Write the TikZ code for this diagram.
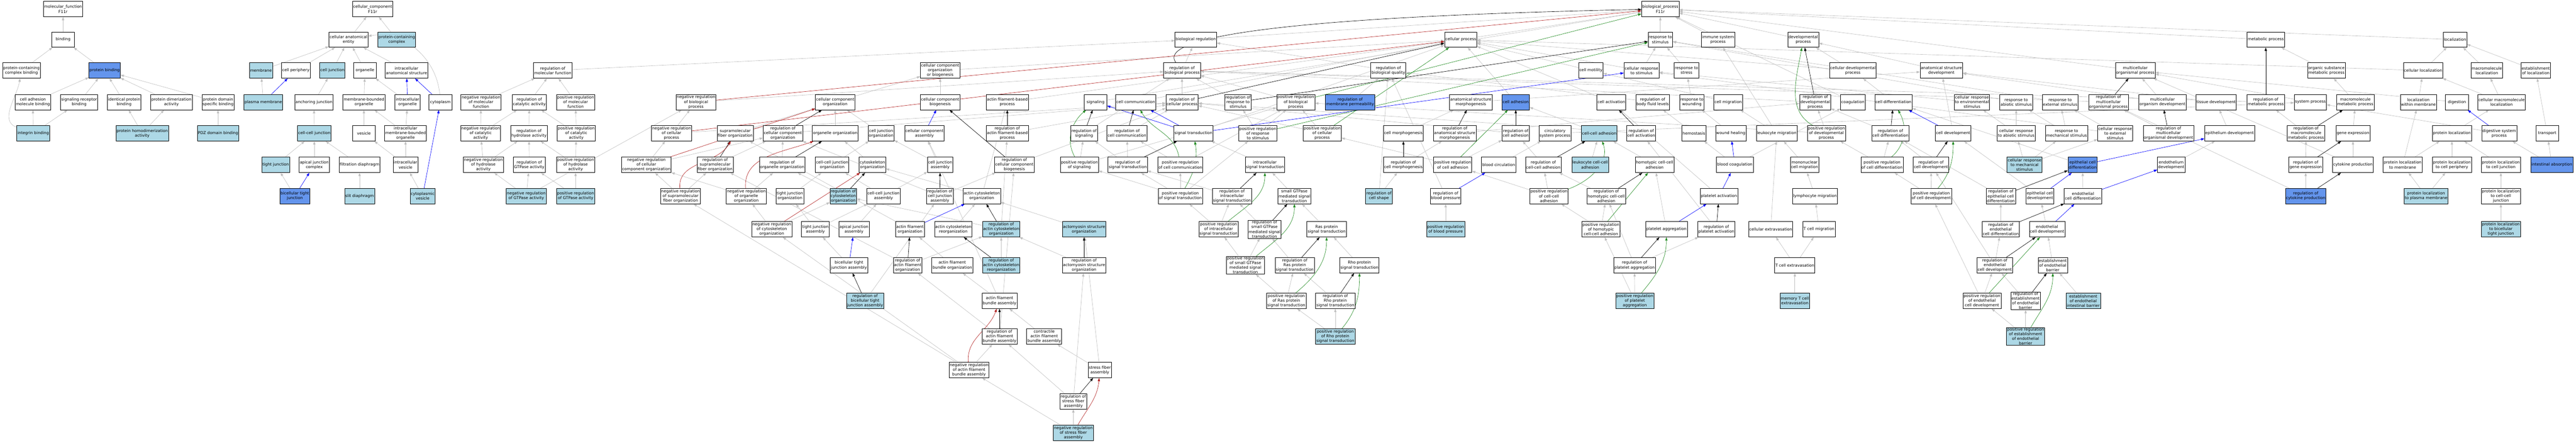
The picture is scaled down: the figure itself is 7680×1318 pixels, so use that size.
\documentclass[tikz,border=0pt]{standalone}
\usepackage{fontspec}
\setmainfont{DejaVu Sans}
\usetikzlibrary{arrows.meta}
\definecolor{hitblue}{RGB}{173,216,230}
\definecolor{keyblue}{RGB}{100,149,237}
\definecolor{isagray}{RGB}{192,192,192}
\definecolor{negred}{RGB}{178,34,34}
\definecolor{posgreen}{RGB}{34,139,34}
\pgfdeclarelayer{edges}
\pgfsetlayers{edges,main}

\begin{document}
\begin{tikzpicture}[x=1pt, y=-1pt,
  term/.style={draw, line width=1pt, fill=white, align=center, minimum width=68pt, minimum height=46pt, inner xsep=2pt, inner ysep=1pt, font=\fontsize{11.8}{14}\selectfont},
  termhit/.style={term, fill=hitblue},
  termkey/.style={term, fill=keyblue},
  isa/.style={draw=isagray, line width=1pt, -{Triangle[length=10pt,width=7pt]}},
  regul/.style={isa, draw=black},
  negreg/.style={isa, draw=negred},
  posreg/.style={isa, draw=posgreen},
  partof/.style={isa, draw=blue},]
\useasboundingbox (0,0) rectangle (7680,1318);

% molecular function
\node[term] (mf) at (188,27) {molecular\_function\\F11r};
\node[term] (bind) at (188,118) {binding};
\node[term] (pcbind) at (64,210) {protein-containing\\complex binding};
\node[termkey] (pbind) at (312,210) {protein binding};
\node[term] (camb) at (98,304) {cell adhesion\\molecule binding};
\node[term] (srb) at (236,304) {signaling receptor\\binding};
\node[term] (ipb) at (370,304) {identical protein\\binding};
\node[term] (pda) at (511,304) {protein dimerization\\activity};
\node[term] (pdsb) at (650,304) {protein domain\\specific binding};
\node[termhit] (intb) at (99,397) {integrin binding};
\node[termhit] (phda) at (424,397) {protein homodimerization\\activity};
\node[termhit] (pdzb) at (650,397) {PDZ domain binding};

% cellular component
\node[term] (cc) at (1111,27) {cellular\_component\\F11r};
\node[term] (cae) at (1039,118) {cellular anatomical\\entity};
\node[termhit] (pcc) at (1183,118) {protein-containing\\complex};
\node[termhit] (memb) at (778,210) {membrane};
\node[term] (cperi) at (882,210) {cell periphery};
\node[termhit] (cjunc) at (991,210) {cell junction};
\node[term] (organ) at (1088,210) {organelle};
\node[term] (ias) at (1212,210) {intracellular\\anatomical structure};
\node[termhit] (pmemb) at (785,304) {plasma membrane};
\node[term] (ajunc) at (936,304) {anchoring junction};
\node[term] (mbo) at (1085,304) {membrane-bounded\\organelle};
\node[term] (io) at (1215,304) {intracellular\\organelle};
\node[term] (cyto) at (1313,304) {cytoplasm};
\node[termhit] (ccj) at (937,397) {cell-cell junction};
\node[term] (ves) at (1085,397) {vesicle};
\node[term] (imbo) at (1209,397) {intracellular\\membrane-bounded\\organelle};
\node[termhit] (tj) at (822,491) {tight junction};
\node[term] (ajc) at (937,491) {apical junction\\complex};
\node[term] (fdia) at (1072,491) {filtration diaphragm};
\node[term] (iv) at (1209,491) {intracellular\\vesicle};
\node[termkey] (btj) at (879,584) {bicellular tight\\junction};
\node[termhit] (sdia) at (1072,584) {slit diaphragm};
\node[termhit] (cv) at (1260,584) {cytoplasmic\\vesicle};

% biological process: molecular function regulation
\node[term] (rmf) at (1648,210) {regulation of\\molecular function};
\node[term] (nrmf) at (1434,304) {negative regulation\\of molecular\\function};
\node[term] (rca) at (1578,304) {regulation of\\catalytic activity};
\node[term] (prmf) at (1716,304) {positive regulation\\of molecular\\function};
\node[term] (nrca) at (1433,397) {negative regulation\\of catalytic\\activity};
\node[term] (rha) at (1577,397) {regulation of\\hydrolase activity};
\node[term] (prca) at (1718,397) {positive regulation\\of catalytic\\activity};
\node[term] (nrha) at (1441,491) {negative regulation\\of hydrolase\\activity};
\node[term] (rgtp) at (1578,491) {regulation of\\GTPase activity};
\node[term] (prha) at (1716,491) {positive regulation\\of hydrolase\\activity};
\node[termhit] (nrgtp) at (1569,584) {negative regulation\\of GTPase activity};
\node[termhit] (prgtp) at (1716,584) {positive regulation\\of GTPase activity};

% component organization
\node[term] (nrbp) at (2075,304) {negative regulation\\of biological\\process};
\node[term] (cco) at (2490,304) {cellular component\\organization};
\node[term] (nrcp) at (2002,397) {negative regulation\\of cellular\\process};
\node[term] (smfo) at (2192,397) {supramolecular\\fiber organization};
\node[term] (rcco) at (2334,397) {regulation of\\cellular component\\organization};
\node[term] (oo) at (2490,397) {organelle organization};
\node[term] (nrcco) at (1927,491) {negative regulation\\of cellular\\component organization};
\node[term] (rsmfo) at (2132,491) {regulation of\\supramolecular\\fiber organization};
\node[term] (roo) at (2332,491) {regulation of\\organelle organization};
\node[term] (ccjo) at (2481,491) {cell-cell junction\\organization};
\node[term] (cso) at (2601,491) {cytoskeleton\\organization};
\node[term] (nrsmfo) at (2029,584) {negative regulation\\of supramolecular\\fiber organization};
\node[term] (nroo) at (2225,584) {negative regulation\\of organelle\\organization};
\node[term] (tjo) at (2355,584) {tight junction\\organization};
\node[termhit] (rcso) at (2514,584) {regulation of\\cytoskeleton\\organization};
\node[term] (ccja) at (2634,584) {cell-cell junction\\assembly};
\node[term] (nrcso) at (2301,683) {negative regulation\\of cytoskeleton\\organization};
\node[term] (tja) at (2431,683) {tight junction\\assembly};
\node[term] (aja) at (2546,683) {apical junction\\assembly};
\node[term] (btja) at (2531,790) {bicellular tight\\junction assembly};
\node[termhit] (rbtja) at (2579,896) {regulation of\\bicellular tight\\junction assembly};

% actin and signalling
\node[term] (breg) at (3565,118) {biological regulation};
\node[term] (ccob) at (2803,210) {cellular component\\organization\\or biogenesis};
\node[term] (rbp) at (3524,210) {regulation of\\biological process};
\node[term] (ccb) at (2803,304) {cellular component\\biogenesis};
\node[term] (afbp) at (3003,304) {actin filament-based\\process};
\node[term] (sig) at (3266,304) {signaling};
\node[term] (ccom) at (3386,304) {cell communication};
\node[term] (rcp) at (3524,304) {regulation of\\cellular process};
\node[term] (rrs) at (3691,304) {regulation of\\response to\\stimulus};
\node[term] (prbp) at (3863,304) {positive regulation\\of biological\\process};
\node[term] (cjo) at (2627,397) {cell junction\\organization};
\node[term] (cca) at (2756,397) {cellular component\\assembly};
\node[term] (rafbp) at (3003,397) {regulation of\\actin filament-based\\process};
\node[term] (rsig) at (3232,397) {regulation of\\signaling};
\node[term] (rccom) at (3360,397) {regulation of\\cell communication};
\node[term] (st) at (3558,397) {signal transduction};
\node[term] (prrs) at (3750,397) {positive regulation\\of response\\to stimulus};
\node[term] (cja) at (2803,491) {cell junction\\assembly};
\node[term] (rccb) at (3024,491) {regulation of\\cellular component\\biogenesis};
\node[term] (psig) at (3218,491) {positive regulation\\of signaling};
\node[term] (rst) at (3362,491) {regulation of\\signal transduction};
\node[term] (prccom) at (3519,491) {positive regulation\\of cell communication};
\node[term] (ist) at (3771,491) {intracellular\\signal transduction};
\node[term] (rcja) at (2802,584) {regulation of\\cell junction\\assembly};
\node[term] (aco) at (2927,584) {actin cytoskeleton\\organization};
\node[term] (prst) at (3519,584) {positive regulation\\of signal transduction};
\node[term] (rist) at (3673,584) {regulation of\\intracellular\\signal transduction};
\node[term] (sgst) at (3859,584) {small GTPase\\mediated signal\\transduction};
\node[term] (afo) at (2713,683) {actin filament\\organization};
\node[term] (acr) at (2842,683) {actin cytoskeleton\\reorganization};
\node[termhit] (raco) at (2985,683) {regulation of\\actin cytoskeleton\\organization};
\node[termhit] (amso) at (3232,683) {actomyosin structure\\organization};
\node[term] (prist) at (3633,683) {positive regulation\\of intracellular\\signal transduction};
\node[term] (rsgst) at (3770,683) {regulation of\\small GTPase\\mediated signal\\transduction};
\node[term] (rasst) at (3955,683) {Ras protein\\signal transduction};
\node[term] (rafo) at (2706,790) {regulation of\\actin filament\\organization};
\node[term] (afbo) at (2839,790) {actin filament\\bundle organization};
\node[termhit] (racr) at (2985,790) {regulation of\\actin cytoskeleton\\reorganization};
\node[term] (ramso) at (3232,790) {regulation of\\actomyosin structure\\organization};
\node[term] (prsgst) at (3713,790) {positive regulation\\of small GTPase\\mediated signal\\transduction};
\node[term] (rrasst) at (3860,790) {regulation of\\Ras protein\\signal transduction};
\node[term] (rhost) at (4053,790) {Rho protein\\signal transduction};
\node[term] (afba) at (2980,896) {actin filament\\bundle assembly};
\node[term] (prrasst) at (3835,896) {positive regulation\\of Ras protein\\signal transduction};
\node[term] (rrhost) at (3981,896) {regulation of\\Rho protein\\signal transduction};
\node[term] (rafba) at (2980,1002) {regulation of\\actin filament\\bundle assembly};
\node[term] (cafba) at (3113,1002) {contractile\\actin filament\\bundle assembly};
\node[termhit] (prrhost) at (3981,1002) {positive regulation\\of Rho protein\\signal transduction};
\node[term] (nrafba) at (2889,1102) {negative regulation\\of actin filament\\bundle assembly};
\node[term] (sfa) at (3279,1102) {stress fiber\\assembly};
\node[term] (rsfa) at (3200,1195) {regulation of\\stress fiber\\assembly};
\node[termhit] (nrsfa) at (3200,1289) {negative regulation\\of stress fiber\\assembly};

% adhesion, response, platelets
\node[term] (bp) at (4950,27) {biological\_process\\F11r};
\node[term] (cp) at (4355,118) {cellular process};
\node[term] (rstim) at (4950,118) {response to\\stimulus};
\node[term] (isp) at (5122,118) {immune system\\process};
\node[term] (rbq) at (4139,210) {regulation of\\biological quality};
\node[term] (cmot) at (4743,210) {cell motility};
\node[term] (crs) at (4894,210) {cellular response\\to stimulus};
\node[term] (rstr) at (5028,210) {response to\\stress};
\node[termkey] (rmp) at (4025,304) {regulation of\\membrane permeability};
\node[term] (asm) at (4385,304) {anatomical structure\\morphogenesis};
\node[termkey] (cadh) at (4519,304) {cell adhesion};
\node[term] (cact) at (4804,304) {cell activation};
\node[term] (rbfl) at (4927,304) {regulation of\\body fluid levels};
\node[term] (rwound) at (5044,304) {response to\\wounding};
\node[term] (cmig) at (5152,304) {cell migration};
\node[term] (prcp) at (3942,397) {positive regulation\\of cellular\\process};
\node[term] (cmorph) at (4184,397) {cell morphogenesis};
\node[term] (rasm) at (4337,397) {regulation of\\anatomical structure\\morphogenesis};
\node[term] (rcadh) at (4519,397) {regulation of\\cell adhesion};
\node[term] (csp) at (4636,397) {circulatory\\system process};
\node[termhit] (ccadh) at (4768,397) {cell-cell adhesion};
\node[term] (rcact) at (4893,397) {regulation of\\cell activation};
\node[term] (hemo) at (5050,397) {hemostasis};
\node[term] (wheal) at (5160,397) {wound healing};
\node[term] (rcmorph) at (4184,491) {regulation of\\cell morphogenesis};
\node[term] (prcadh) at (4331,491) {positive regulation\\of cell adhesion};
\node[term] (bcirc) at (4468,491) {blood circulation};
\node[term] (rccadh) at (4601,491) {regulation of\\cell-cell adhesion};
\node[termhit] (lccadh) at (4741,491) {leukocyte cell-cell\\adhesion};
\node[term] (hccadh) at (4933,491) {homotypic cell-cell\\adhesion};
\node[term] (bcoag) at (5172,491) {blood coagulation};
\node[termhit] (rcshape) at (4111,584) {regulation of\\cell shape};
\node[term] (rbpres) at (4310,584) {regulation of\\blood pressure};
\node[term] (prccadh) at (4618,584) {positive regulation\\of cell-cell\\adhesion};
\node[term] (rhccadh) at (4789,584) {regulation of\\homotypic cell-cell\\adhesion};
\node[term] (pact) at (5125,584) {platelet activation};
\node[termhit] (prbpres) at (4310,683) {positive regulation\\of blood pressure};
\node[term] (prhccadh) at (4773,683) {positive regulation\\of homotypic\\cell-cell adhesion};
\node[term] (pagg) at (4968,683) {platelet aggregation};
\node[term] (rpact) at (5117,683) {regulation of\\platelet activation};
\node[term] (rpagg) at (4873,790) {regulation of\\platelet aggregation};
\node[termhit] (prpagg) at (4874,896) {positive regulation\\of platelet\\aggregation};

% development, migration
\node[term] (dp) at (5376,118) {developmental\\process};
\node[term] (cdp) at (5524,210) {cellular developmental\\process};
\node[term] (asd) at (5788,210) {anatomical structure\\development};
\node[term] (mop) at (6366,210) {multicellular\\organismal process};
\node[term] (rdp) at (5412,304) {regulation of\\developmental\\process};
\node[term] (coag) at (5524,304) {coagulation};
\node[term] (cdiff) at (5645,304) {cell differentiation};
\node[term] (cres) at (5879,304) {cellular response\\to environmental\\stimulus};
\node[term] (rabs) at (6011,304) {response to\\abiotic stimulus};
\node[term] (rext) at (6142,304) {response to\\external stimulus};
\node[term] (rmop) at (6286,304) {regulation of\\multicellular\\organismal process};
\node[term] (mod) at (6447,304) {multicellular\\organism development};
\node[term] (lmig) at (5297,397) {leukocyte migration};
\node[term] (prdp) at (5445,397) {positive regulation\\of developmental\\process};
\node[term] (rcdiff) at (5636,397) {regulation of\\cell differentiation};
\node[term] (cdev) at (5823,397) {cell development};
\node[term] (crabs) at (6011,397) {cellular response\\to abiotic stimulus};
\node[term] (rmech) at (6161,397) {response to\\mechanical stimulus};
\node[term] (crext) at (6306,397) {cellular response\\to external\\stimulus};
\node[term] (rmod) at (6465,397) {regulation of\\multicellular\\organismal development};
\node[term] (mnmig) at (5380,491) {mononuclear\\cell migration};
\node[term] (prcdiff) at (5611,491) {positive regulation\\of cell differentiation};
\node[term] (rcdev) at (5757,491) {regulation of\\cell development};
\node[termhit] (crmech) at (6036,491) {cellular response\\to mechanical\\stimulus};
\node[termkey] (ecdiff) at (6209,491) {epithelial cell\\differentiation};
\node[term] (lymig) at (5411,584) {lymphocyte migration};
\node[term] (prcdev) at (5758,584) {positive regulation\\of cell development};
\node[term] (recdiff) at (5965,584) {regulation of\\epithelial cell\\differentiation};
\node[term] (ecdev) at (6082,584) {epithelial cell\\development};
\node[term] (encdiff) at (6210,584) {endothelial\\cell differentiation};
\node[term] (cext) at (5279,683) {cellular extravasation};
\node[term] (tmig) at (5423,683) {T cell migration};
\node[term] (rencdiff) at (5965,683) {regulation of\\endothelial\\cell differentiation};
\node[term] (encdev) at (6103,683) {endothelial\\cell development};
\node[term] (tcext) at (5351,790) {T cell extravasation};
\node[term] (rencdev) at (5947,790) {regulation of\\endothelial\\cell development};
\node[term] (eeb) at (6120,790) {establishment\\of endothelial\\barrier};
\node[termhit] (mtext) at (5351,896) {memory T cell\\extravasation};
\node[term] (prencdev) at (5909,896) {positive regulation\\of endothelial\\cell development};
\node[term] (reeb) at (6039,896) {regulation of\\establishment\\of endothelial\\barrier};
\node[termhit] (eeib) at (6211,896) {establishment\\of endothelial\\intestinal barrier};
\node[termhit] (preeb) at (6039,1002) {positive regulation\\of establishment\\of endothelial\\barrier};

% metabolism, localization
\node[term] (mp) at (6755,118) {metabolic process};
\node[term] (loc) at (7319,118) {localization};
\node[term] (osmp) at (6936,210) {organic substance\\metabolic process};
\node[term] (cloc) at (7224,210) {cellular localization};
\node[term] (mloc) at (7414,210) {macromolecule\\localization};
\node[term] (eloc) at (7560,210) {establishment\\of localization};
\node[term] (tdev) at (6607,304) {tissue development};
\node[term] (rmetp) at (6755,304) {regulation of\\metabolic process};
\node[term] (sysp) at (6888,304) {system process};
\node[term] (mmp) at (7022,304) {macromolecule\\metabolic process};
\node[term] (locm) at (7210,304) {localization\\within membrane};
\node[term] (dig) at (7325,304) {digestion};
\node[term] (cmloc) at (7458,304) {cellular macromolecule\\localization};
\node[term] (edev) at (6647,397) {epithelium development};
\node[term] (rmmp) at (6875,397) {regulation of\\macromolecule\\metabolic process};
\node[term] (gexp) at (7015,397) {gene expression};
\node[term] (ploc) at (7310,397) {protein localization};
\node[term] (dsp) at (7451,397) {digestive system\\process};
\node[term] (trans) at (7594,397) {transport};
\node[term] (endev) at (6473,491) {endothelium\\development};
\node[term] (rgexp) at (6874,491) {regulation of\\gene expression};
\node[term] (cprod) at (7015,491) {cytokine production};
\node[term] (plocm) at (7163,491) {protein localization\\to membrane};
\node[term] (plocp) at (7310,491) {protein localization\\to cell periphery};
\node[term] (plocj) at (7456,491) {protein localization\\to cell junction};
\node[termkey] (iabs) at (7608,491) {intestinal absorption};
\node[termkey] (rcprod) at (6874,584) {regulation of\\cytokine production};
\node[termhit] (plocpm) at (7233,584) {protein localization\\to plasma membrane};
\node[term] (plocccj) at (7456,584) {protein localization\\to cell-cell\\junction};
\node[termhit] (plocbtj) at (7456,683) {protein localization\\to bicellular\\tight junction};

\begin{pgfonlayer}{edges}
% is_a
\draw[isa] (bind) -- (mf);
\draw[isa] (pcbind) -- (bind);
\draw[isa] (pbind) -- (bind);
\draw[isa] (camb) -- (pbind);
\draw[isa] (srb) -- (pbind);
\draw[isa] (ipb) -- (pbind);
\draw[isa] (pda) -- (pbind);
\draw[isa] (pdsb) -- (pbind);
\draw[isa] (intb) to[out=160,in=-100] (pcbind);
\draw[isa] (intb) -- (camb);
\draw[isa] (intb) -- (srb);
\draw[isa] (phda) -- (ipb);
\draw[isa] (phda) -- (pda);
\draw[isa] (pdzb) -- (pdsb);
\draw[isa] (cae) -- (cc);
\draw[isa] (pcc) -- (cc);
\draw[isa] (memb) -- (cae);
\draw[isa] (cperi) -- (cae);
\draw[isa] (cjunc) -- (cae);
\draw[isa] (organ) -- (cae);
\draw[isa] (ias) -- (cae);
\draw[isa] (cyto) to[out=95,in=10] (cae);
\draw[isa] (pmemb) -- (memb);
\draw[isa] (ajunc) -- (cjunc);
\draw[isa] (mbo) -- (organ);
\draw[isa] (io) -- (organ);
\draw[isa] (ccj) -- (ajunc);
\draw[isa] (ves) -- (mbo);
\draw[isa] (imbo) -- (mbo);
\draw[isa] (imbo) -- (io);
\draw[isa] (tj) -- (ccj);
\draw[isa] (ajc) -- (ccj);
\draw[isa] (fdia) -- (ccj);
\draw[isa] (iv) -- (ves);
\draw[isa] (iv) -- (imbo);
\draw[isa] (btj) -- (tj);
\draw[isa] (sdia) -- (fdia);
\draw[isa] (cv) -- (iv);
\draw[isa] (rmf) -- (breg);
\draw[isa] (nrmf) -- (rmf);
\draw[isa] (rca) -- (rmf);
\draw[isa] (prmf) -- (rmf);
\draw[isa] (nrca) -- (nrmf);
\draw[isa] (nrca) -- (rca);
\draw[isa] (rha) -- (rca);
\draw[isa] (prca) -- (rca);
\draw[isa] (prca) -- (prmf);
\draw[isa] (nrha) -- (nrca);
\draw[isa] (nrha) -- (rha);
\draw[isa] (rgtp) -- (rha);
\draw[isa] (prha) -- (rha);
\draw[isa] (prha) -- (prca);
\draw[isa] (nrgtp) -- (nrha);
\draw[isa] (nrgtp) -- (rgtp);
\draw[isa] (nrgtp) -- (nrbp);
\draw[isa] (prgtp) -- (rgtp);
\draw[isa] (prgtp) -- (prha);
\draw[isa] (breg) -- (bp);
\draw[isa] (cp) -- (bp);
\draw[isa] (rstim) -- (bp);
\draw[isa] (isp) -- (bp);
\draw[isa] (dp) -- (bp);
\draw[isa] (mop) -- (bp);
\draw[isa] (mp) -- (bp);
\draw[isa] (loc) -- (bp);
\draw[isa] (rbp) -- (breg);
\draw[isa] (nrbp) -- (rbp);
\draw[isa] (prbp) -- (rbp);
\draw[isa] (rcp) -- (rbp);
\draw[isa] (nrcp) -- (nrbp);
\draw[isa] (nrcp) -- (rcp);
\draw[isa] (prcp) -- (prbp);
\draw[isa] (prcp) -- (rcp);
\draw[isa] (ccob) -- (cp);
\draw[isa] (ccb) -- (ccob);
\draw[isa] (cco) -- (ccob);
\draw[isa] (rcco) -- (rcp);
\draw[isa] (nrcco) -- (nrcp);
\draw[isa] (nrcco) -- (rcco);
\draw[isa] (smfo) -- (cco);
\draw[isa] (oo) -- (cco);
\draw[isa] (cjo) -- (cco);
\draw[isa] (rsmfo) -- (rcco);
\draw[isa] (nrsmfo) -- (rsmfo);
\draw[isa] (nrsmfo) -- (nrcco);
\draw[isa] (roo) -- (rcco);
\draw[isa] (nroo) -- (roo);
\draw[isa] (nroo) -- (nrcco);
\draw[isa] (ccjo) -- (cjo);
\draw[isa] (cso) -- (oo);
\draw[isa] (rcso) -- (roo);
\draw[isa] (nrcso) -- (nroo);
\draw[isa] (nrcso) -- (rcso);
\draw[isa] (tjo) -- (ccjo);
\draw[isa] (tja) -- (tjo);
\draw[isa] (tja) -- (ccja);
\draw[isa] (aja) -- (ccja);
\draw[isa] (btja) -- (tja);
\draw[isa] (rbtja) -- (rcja);
\draw[isa] (ccja) -- (ccjo);
\draw[isa] (ccja) -- (cja);
\draw[isa] (afbp) -- (cp);
\draw[isa] (sig) -- (bp);
\draw[isa] (ccom) -- (cp);
\draw[isa] (rsig) -- (rbp);
\draw[isa] (rccom) -- (rcp);
\draw[isa] (st) -- (cp);
\draw[isa] (rrs) -- (rbp);
\draw[isa] (prrs) -- (prbp);
\draw[isa] (prrs) -- (rrs);
\draw[isa] (psig) -- (rsig);
\draw[isa] (psig) -- (prbp);
\draw[isa] (rst) -- (rsig);
\draw[isa] (rst) -- (rccom);
\draw[isa] (prccom) -- (rccom);
\draw[isa] (prccom) -- (prbp);
\draw[isa] (prst) -- (rst);
\draw[isa] (prst) -- (psig);
\draw[isa] (prst) -- (prccom);
\draw[isa] (prst) -- (prrs);
\draw[isa] (ist) -- (st);
\draw[isa] (rist) -- (rst);
\draw[isa] (sgst) -- (ist);
\draw[isa] (prist) -- (prst);
\draw[isa] (prist) -- (rist);
\draw[isa] (rsgst) -- (rist);
\draw[isa] (prsgst) -- (prist);
\draw[isa] (prsgst) -- (rsgst);
\draw[isa] (rasst) -- (sgst);
\draw[isa] (rrasst) -- (rsgst);
\draw[isa] (prrasst) -- (prsgst);
\draw[isa] (prrasst) -- (rrasst);
\draw[isa] (rhost) -- (rasst);
\draw[isa] (rrhost) -- (rrasst);
\draw[isa] (prrhost) -- (prrasst);
\draw[isa] (prrhost) -- (rrhost);
\draw[isa] (cja) -- (cjo);
\draw[isa] (cja) -- (cca);
\draw[isa] (rccb) -- (rcp);
\draw[isa] (rcja) -- (rccb);
\draw[isa] (rcja) -- (rcco);
\draw[isa] (aco) -- (cso);
\draw[isa] (aco) -- (afbp);
\draw[isa] (afo) -- (smfo);
\draw[isa] (acr) -- (aco);
\draw[isa] (raco) -- (rcso);
\draw[isa] (raco) -- (rafbp);
\draw[isa] (rafbp) -- (rcp);
\draw[isa] (amso) -- (aco);
\draw[isa] (rafo) -- (rsmfo);
\draw[isa] (rafo) -- (raco);
\draw[isa] (afbo) -- (afo);
\draw[isa] (racr) -- (raco);
\draw[isa] (ramso) -- (raco);
\draw[isa] (afba) -- (afbo);
\draw[isa] (afba) -- (cca);
\draw[isa] (rafba) -- (rafo);
\draw[isa] (rafba) -- (rccb);
\draw[isa] (cafba) -- (afba);
\draw[isa] (nrafba) -- (rafba);
\draw[isa] (nrafba) -- (nrsmfo);
\draw[isa] (nrafba) -- (nrcso);
\draw[isa] (sfa) -- (cafba);
\draw[isa] (sfa) -- (amso);
\draw[isa] (rsfa) -- (rafba);
\draw[isa] (rsfa) -- (ramso);
\draw[isa] (nrsfa) -- (rsfa);
\draw[isa] (nrsfa) -- (nrafba);
\draw[isa] (rbq) -- (breg);
\draw[isa] (rmp) -- (rbq);
\draw[isa] (asm) -- (asd);
\draw[isa] (cadh) -- (cp);
\draw[isa] (cact) -- (cp);
\draw[isa] (rbfl) -- (rbq);
\draw[isa] (rwound) -- (rstr);
\draw[isa] (cmig) -- (cmot);
\draw[isa] (cmot) -- (cp);
\draw[isa] (crs) -- (rstim);
\draw[isa] (crs) -- (cp);
\draw[isa] (rstr) -- (rstim);
\draw[isa] (cmorph) -- (asm);
\draw[isa] (rasm) -- (rdp);
\draw[isa] (rcadh) -- (rcp);
\draw[isa] (csp) -- (sysp);
\draw[isa] (ccadh) -- (cadh);
\draw[isa] (rcact) -- (rcp);
\draw[isa] (hemo) -- (rbfl);
\draw[isa] (wheal) -- (rwound);
\draw[isa] (rcmorph) -- (rasm);
\draw[isa] (prcadh) -- (rcadh);
\draw[isa] (prcadh) -- (prcp);
\draw[isa] (bcirc) -- (csp);
\draw[isa] (rccadh) -- (rcadh);
\draw[isa] (lccadh) -- (ccadh);
\draw[isa] (hccadh) -- (ccadh);
\draw[isa] (bcoag) -- (hemo);
\draw[isa] (bcoag) -- (coag);
\draw[isa] (rcshape) -- (rbq);
\draw[isa] (rcshape) -- (rcmorph);
\draw[isa] (rbpres) -- (rbq);
\draw[isa] (prccadh) -- (rccadh);
\draw[isa] (prccadh) -- (prcadh);
\draw[isa] (rhccadh) -- (rccadh);
\draw[isa] (pact) -- (cact);
\draw[isa] (prbpres) -- (rbpres);
\draw[isa] (prhccadh) -- (prccadh);
\draw[isa] (prhccadh) -- (rhccadh);
\draw[isa] (pagg) -- (hccadh);
\draw[isa] (rpact) -- (rcact);
\draw[isa] (rpagg) -- (rhccadh);
\draw[isa] (rpagg) -- (rpact);
\draw[isa] (prpagg) -- (rpagg);
\draw[isa] (prpagg) -- (prhccadh);
\draw[isa] (cdp) -- (dp);
\draw[isa] (cdp) -- (cp);
\draw[isa] (asd) -- (dp);
\draw[isa] (rdp) -- (rbp);
\draw[isa] (coag) -- (bp);
\draw[isa] (cdiff) -- (cdp);
\draw[isa] (cres) -- (crs);
\draw[isa] (rabs) -- (rstim);
\draw[isa] (rext) -- (rstim);
\draw[isa] (rmop) -- (rbp);
\draw[isa] (mod) -- (mop);
\draw[isa] (mod) -- (asd);
\draw[isa] (lmig) -- (cmig);
\draw[isa] (lmig) -- (isp);
\draw[isa] (prdp) -- (rdp);
\draw[isa] (prdp) -- (prbp);
\draw[isa] (rcdiff) -- (rdp);
\draw[isa] (cdev) -- (asd);
\draw[isa] (crabs) -- (rabs);
\draw[isa] (crabs) -- (cres);
\draw[isa] (rmech) -- (rabs);
\draw[isa] (rmech) -- (rext);
\draw[isa] (crext) -- (rext);
\draw[isa] (crext) -- (crs);
\draw[isa] (rmod) -- (rmop);
\draw[isa] (mnmig) -- (lmig);
\draw[isa] (prcdiff) -- (rcdiff);
\draw[isa] (prcdiff) -- (prdp);
\draw[isa] (rcdev) -- (rcdiff);
\draw[isa] (crmech) -- (crabs);
\draw[isa] (crmech) -- (rmech);
\draw[isa] (crmech) -- (crext);
\draw[isa] (ecdiff) -- (cdiff);
\draw[isa] (lymig) -- (mnmig);
\draw[isa] (prcdev) -- (rcdev);
\draw[isa] (prcdev) -- (prcdiff);
\draw[isa] (recdiff) -- (rcdiff);
\draw[isa] (ecdev) -- (cdev);
\draw[isa] (encdiff) -- (ecdiff);
\draw[isa] (cext) -- (lmig);
\draw[isa] (tmig) -- (lymig);
\draw[isa] (rencdiff) -- (recdiff);
\draw[isa] (encdev) -- (ecdev);
\draw[isa] (tcext) -- (cext);
\draw[isa] (tcext) -- (tmig);
\draw[isa] (rencdev) -- (rencdiff);
\draw[isa] (rencdev) -- (rcdev);
\draw[isa] (eeb) -- (encdev);
\draw[isa] (mtext) -- (tcext);
\draw[isa] (prencdev) -- (rencdev);
\draw[isa] (prencdev) -- (prcdev);
\draw[isa] (reeb) -- (rencdev);
\draw[isa] (eeib) -- (eeb);
\draw[isa] (preeb) -- (reeb);
\draw[isa] (preeb) -- (prencdev);
\draw[isa] (osmp) -- (mp);
\draw[isa] (cloc) -- (loc);
\draw[isa] (cloc) -- (cp);
\draw[isa] (mloc) -- (loc);
\draw[isa] (eloc) -- (loc);
\draw[isa] (tdev) -- (asd);
\draw[isa] (rmetp) -- (rbp);
\draw[isa] (sysp) -- (mop);
\draw[isa] (mmp) -- (osmp);
\draw[isa] (locm) -- (cloc);
\draw[isa] (dig) -- (mop);
\draw[isa] (cmloc) -- (cloc);
\draw[isa] (cmloc) -- (mloc);
\draw[isa] (edev) -- (tdev);
\draw[isa] (rmmp) -- (rmetp);
\draw[isa] (gexp) -- (mmp);
\draw[isa] (ploc) -- (cmloc);
\draw[isa] (dsp) -- (sysp);
\draw[isa] (trans) -- (eloc);
\draw[isa] (endev) -- (edev);
\draw[isa] (rgexp) -- (rmmp);
\draw[isa] (cprod) -- (gexp);
\draw[isa] (cprod) -- (mop);
\draw[isa] (plocm) -- (ploc);
\draw[isa] (plocm) -- (locm);
\draw[isa] (plocp) -- (ploc);
\draw[isa] (plocj) -- (ploc);
\draw[isa] (iabs) -- (dsp);
\draw[isa] (iabs) -- (trans);
\draw[isa] (rcprod) -- (rgexp);
\draw[isa] (rcprod) -- (rmop);
\draw[isa] (plocpm) -- (plocm);
\draw[isa] (plocpm) -- (plocp);
\draw[isa] (plocccj) -- (plocj);
\draw[isa] (plocbtj) -- (plocccj);
% part_of
\draw[partof] (pmemb) -- (cperi);
\draw[partof] (io) -- (ias);
\draw[partof] (cyto) -- (ias);
\draw[partof] (btj) -- (ajc);
\draw[partof] (cv) -- (cyto);
\draw[partof] (btja) -- (aja);
\draw[partof] (st) -- (sig);
\draw[partof] (st) -- (ccom);
\draw[partof] (st) -- (crs);
\draw[partof] (cca) -- (ccb);
\draw[partof] (afo) -- (aco);
\draw[partof] (bcoag) -- (wheal);
\draw[partof] (rbpres) -- (bcirc);
\draw[partof] (pact) -- (bcoag);
\draw[partof] (pagg) -- (pact);
\draw[partof] (cdev) -- (cdiff);
\draw[partof] (ecdiff) -- (edev);
\draw[partof] (ecdev) -- (ecdiff);
\draw[partof] (encdiff) -- (endev);
\draw[partof] (encdev) -- (encdiff);
\draw[partof] (dsp) -- (dig);
% regulates
\draw[regul] (rbp) .. controls (3470,140) and (3560,55) .. (bp);
\draw[regul] (rcp) -- (cp);
\draw[regul] (rcco) -- (cco);
\draw[regul] (rsmfo) -- (smfo);
\draw[regul] (roo) -- (oo);
\draw[regul] (rcso) -- (cso);
\draw[regul] (rbtja) -- (btja);
\draw[regul] (rsig) -- (sig);
\draw[regul] (rccom) -- (ccom);
\draw[regul] (rrs) -- (rstim);
\draw[regul] (rst) -- (st);
\draw[regul] (rist) -- (ist);
\draw[regul] (rsgst) -- (sgst);
\draw[regul] (rrasst) -- (rasst);
\draw[regul] (rrhost) -- (rhost);
\draw[regul] (rccb) -- (ccb);
\draw[regul] (rcja) -- (cja);
\draw[regul] (raco) -- (aco);
\draw[regul] (rafbp) -- (afbp);
\draw[regul] (rafo) -- (afo);
\draw[regul] (racr) -- (acr);
\draw[regul] (ramso) -- (amso);
\draw[regul] (rafba) -- (afba);
\draw[regul] (rsfa) -- (sfa);
\draw[regul] (rasm) -- (asm);
\draw[regul] (rcadh) -- (cadh);
\draw[regul] (rcact) -- (cact);
\draw[regul] (rcmorph) -- (cmorph);
\draw[regul] (rccadh) -- (ccadh);
\draw[regul] (rhccadh) -- (hccadh);
\draw[regul] (rpact) -- (pact);
\draw[regul] (rpagg) -- (pagg);
\draw[regul] (rdp) -- (dp);
\draw[regul] (rmop) -- (mop);
\draw[regul] (rcdiff) -- (cdiff);
\draw[regul] (rmod) -- (mod);
\draw[regul] (rcdev) -- (cdev);
\draw[regul] (recdiff) -- (ecdiff);
\draw[regul] (rencdiff) -- (encdiff);
\draw[regul] (rencdev) -- (encdev);
\draw[regul] (reeb) -- (eeb);
\draw[regul] (rmetp) -- (mp);
\draw[regul] (rmmp) -- (mmp);
\draw[regul] (rgexp) -- (gexp);
\draw[regul] (rcprod) -- (cprod);
% negatively regulates
\draw[negreg] (nrbp) -- (bp);
\draw[negreg] (nrcp) -- (cp);
\draw[negreg] (nrcco) -- (cco);
\draw[negreg] (nrsmfo) to[out=95,in=-120] (smfo);
\draw[negreg] (nroo) to[out=95,in=-160] (oo);
\draw[negreg] (nrcso) -- (cso);
\draw[negreg] (nrafba) to[out=95,in=-110] (afba);
\draw[negreg] (nrsfa) to[out=60,in=-95] (sfa);
% positively regulates
\draw[posreg] (prbp) -- (bp);
\draw[posreg] (prcp) -- (cp);
\draw[posreg] (prrs) -- (rstim);
\draw[posreg] (psig) to[out=120,in=-140] (sig);
\draw[posreg] (prccom) to[out=100,in=-60] (ccom);
\draw[posreg] (prst) to[out=60,in=-80] (st);
\draw[posreg] (prist) to[out=40,in=-90] (ist);
\draw[posreg] (prsgst) to[out=40,in=-90] (sgst);
\draw[posreg] (prrasst) to[out=40,in=-90] (rasst);
\draw[posreg] (prrhost) to[out=50,in=-90] (rhost);
\draw[posreg] (prcadh) -- (cadh);
\draw[posreg] (prccadh) to[out=20,in=-70] (ccadh);
\draw[posreg] (prhccadh) -- (hccadh);
\draw[posreg] (prpagg) to[out=50,in=-90] (pagg);
\draw[posreg] (prdp) to[out=150,in=-100] (dp);
\draw[posreg] (prcdiff) to[out=40,in=-60] (cdiff);
\draw[posreg] (prcdev) to[out=50,in=-90] (cdev);
\draw[posreg] (prencdev) -- (encdev);
\draw[posreg] (preeb) to[out=60,in=-90] (eeb);
\end{pgfonlayer}
\end{tikzpicture}
\end{document}
